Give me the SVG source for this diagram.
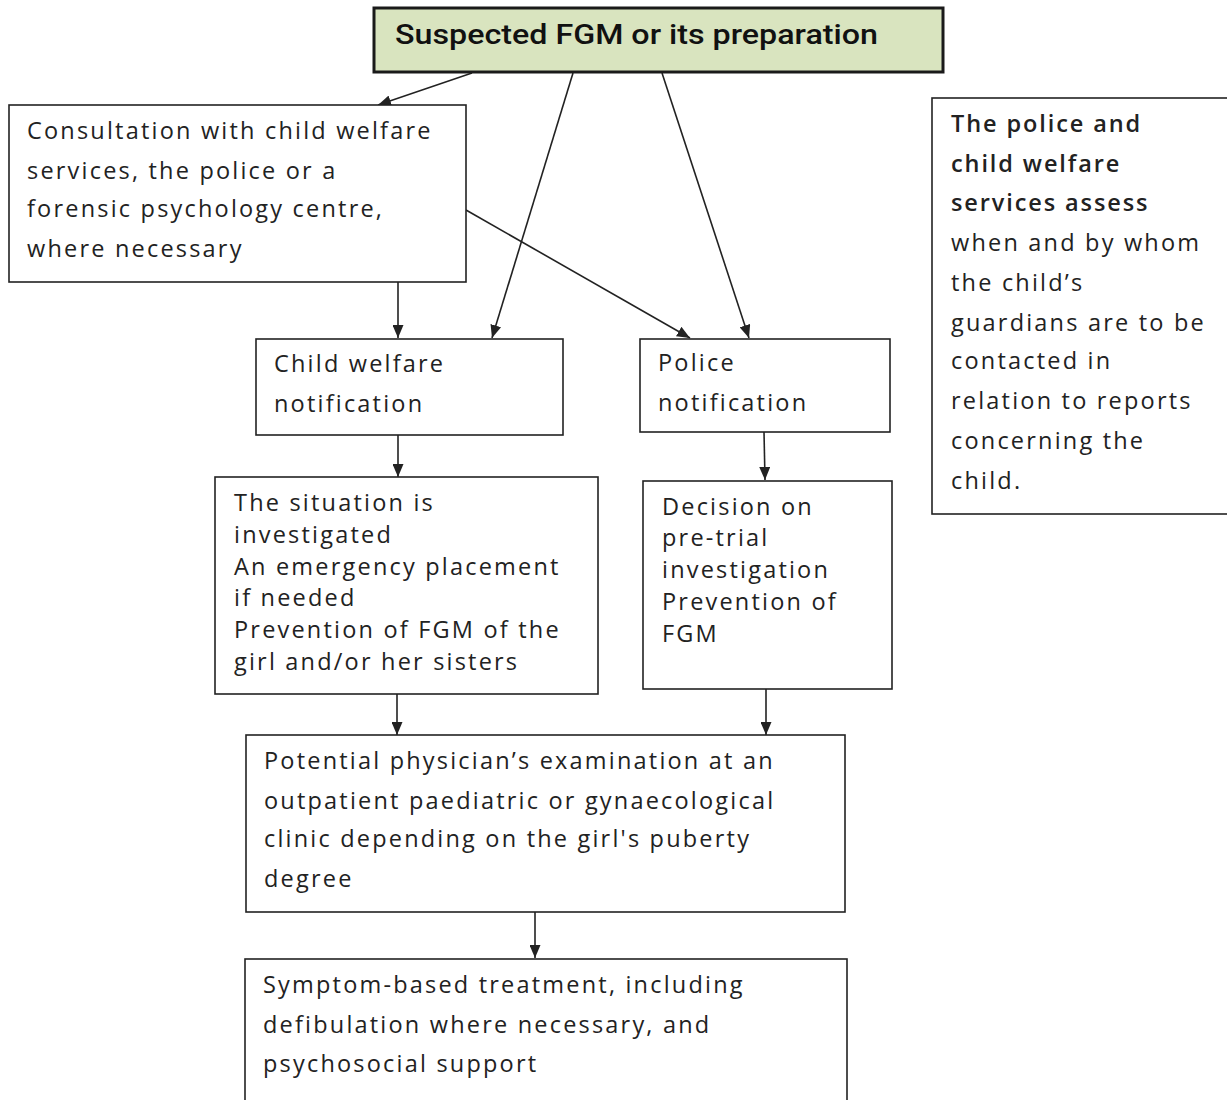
<svg xmlns="http://www.w3.org/2000/svg" width="1227" height="1100" viewBox="0 0 1227 1100">
<style>
.box{fill:#fff;stroke:#222;stroke-width:1.6}
.t{font-family:"Open Sans","Noto Sans",sans-serif;font-size:23.5px;fill:#222;letter-spacing:2.2px}
.b{font-weight:600;letter-spacing:1.9px}
.c{stroke:#222;stroke-width:1.6;fill:none;marker-end:url(#ah)}
</style>
<defs>
<marker id="ah" viewBox="0 0 13 11" refX="13" refY="5.5" markerWidth="13" markerHeight="11" markerUnits="userSpaceOnUse" orient="auto">
<path d="M0,0 L13,5.5 L0,11 Z" fill="#222"/>
</marker>
</defs>
<rect width="1227" height="1100" fill="#fff"/>
<g id="connectors">
<line class="c" x1="472" y1="73" x2="378" y2="105"/>
<line class="c" x1="573" y1="73" x2="492" y2="338"/>
<line class="c" x1="662" y1="73" x2="749" y2="338"/>
<line class="c" x1="466" y1="210" x2="690" y2="338"/>
<line class="c" x1="398" y1="282" x2="398" y2="338"/>
<line class="c" x1="398" y1="435" x2="398" y2="477"/>
<line class="c" x1="764" y1="432" x2="765" y2="480"/>
<line class="c" x1="397" y1="694" x2="397" y2="735"/>
<line class="c" x1="766" y1="689" x2="766" y2="735"/>
<line class="c" x1="535" y1="912" x2="535" y2="958"/>
</g>
<g id="n-suspected">
<rect x="374" y="8" width="569" height="64" fill="#d9e4bf" stroke="#1a1a1a" stroke-width="3"/>
<text x="395" y="44" font-family="Roboto, Liberation Sans, sans-serif" font-weight="500" font-size="28" fill="#111" textLength="483" lengthAdjust="spacingAndGlyphs">Suspected FGM or its preparation</text>
</g>
<g id="n-consultation">
<rect class="box" x="9" y="105" width="457" height="177"/>
<text class="t"><tspan x="27" y="139">Consultation with child welfare</tspan><tspan x="27" y="179">services, the police or a</tspan><tspan x="27" y="217">forensic psychology centre,</tspan><tspan x="27" y="257">where necessary</tspan></text>
</g>
<g id="n-child-welfare">
<rect class="box" x="256" y="339" width="307" height="96"/>
<text class="t"><tspan x="274" y="372">Child welfare</tspan><tspan x="274" y="412">notification</tspan></text>
</g>
<g id="n-police">
<rect class="box" x="640" y="339" width="250" height="93"/>
<text class="t"><tspan x="658" y="371">Police</tspan><tspan x="658" y="411">notification</tspan></text>
</g>
<g id="n-assess">
<rect class="box" x="932" y="98" width="300" height="416"/>
<text class="t"><tspan class="b" x="951" y="132">The police and</tspan><tspan class="b" x="951" y="172">child welfare</tspan><tspan class="b" x="951" y="211">services assess</tspan><tspan x="951" y="251">when and by whom</tspan><tspan x="951" y="291">the child’s</tspan><tspan x="951" y="331">guardians are to be</tspan><tspan x="951" y="369">contacted in</tspan><tspan x="951" y="409">relation to reports</tspan><tspan x="951" y="449">concerning the</tspan><tspan x="951" y="489">child.</tspan></text>
</g>
<g id="n-situation">
<rect class="box" x="215" y="477" width="383" height="217"/>
<text class="t"><tspan x="234" y="511">The situation is</tspan><tspan x="234" y="543">investigated</tspan><tspan x="234" y="575">An emergency placement</tspan><tspan x="234" y="606">if needed</tspan><tspan x="234" y="638">Prevention of FGM of the</tspan><tspan x="234" y="670">girl and/or her sisters</tspan></text>
</g>
<g id="n-decision">
<rect class="box" x="643" y="481" width="249" height="208"/>
<text class="t"><tspan x="662" y="515">Decision on</tspan><tspan x="662" y="546">pre-trial</tspan><tspan x="662" y="578">investigation</tspan><tspan x="662" y="610">Prevention of</tspan><tspan x="662" y="642">FGM</tspan></text>
</g>
<g id="n-examination">
<rect class="box" x="246" y="735" width="599" height="177"/>
<text class="t"><tspan x="264" y="769">Potential physician’s examination at an</tspan><tspan x="264" y="809">outpatient paediatric or gynaecological</tspan><tspan x="264" y="847">clinic depending on the girl's puberty</tspan><tspan x="264" y="887">degree</tspan></text>
</g>
<g id="n-treatment">
<rect class="box" x="245" y="959" width="602" height="160"/>
<text class="t"><tspan x="263" y="993">Symptom-based treatment, including</tspan><tspan x="263" y="1033">defibulation where necessary, and</tspan><tspan x="263" y="1072">psychosocial support</tspan></text>
</g>
</svg>
